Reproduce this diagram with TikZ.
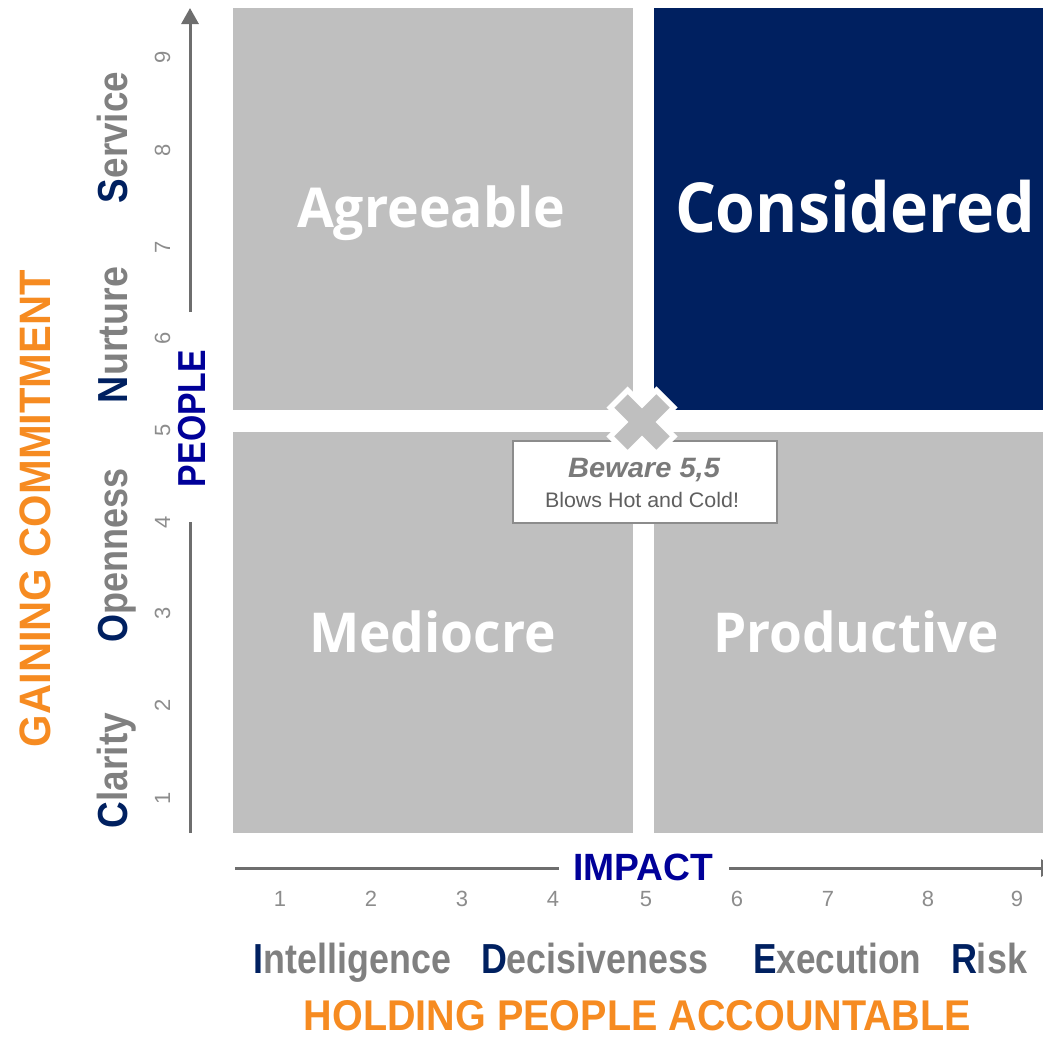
\documentclass[tikz,border=0pt]{standalone}
\usepackage{fontspec}
\usepackage{graphicx}
\setmainfont{Liberation Sans}
\newfontfamily\osans{Open Sans}
\usetikzlibrary{arrows.meta}

\definecolor{quadgray}{HTML}{BFBFBF}
\definecolor{navy}{HTML}{002060}
\definecolor{axblue}{HTML}{000099}
\definecolor{orng}{HTML}{F68B21}
\definecolor{wgray}{HTML}{808080}
\definecolor{tgray}{HTML}{8C8C8C}
\definecolor{lgray}{HTML}{6E6E6E}
\definecolor{bgray}{HTML}{7A7A7A}
\definecolor{cgray}{HTML}{5F5F5F}

\newcommand\fitw[2]{\resizebox{#1pt}{\height}{#2}}
\newcommand\fsz[1]{\fontsize{#1}{#1}\selectfont}

\tikzset{
  quad/.style={fill=quadgray},
  qlabel/.style={anchor=base, inner sep=0pt, text=white},
  vnum/.style={rotate=90, anchor=base, inner sep=0pt, text=tgray, font=\fsz{22}},
  hnum/.style={anchor=base, inner sep=0pt, text=tgray, font=\fsz{22}},
  vword/.style={rotate=90, anchor=base, inner sep=0pt, text=wgray, font=\bfseries\fsz{42}},
  hword/.style={anchor=base, inner sep=0pt, text=wgray, font=\bfseries\fsz{42}},
  axisline/.style={draw=lgray, line width=3pt},
  axisarrow/.style={axisline, -{Triangle[length=16pt,width=17pt]}},
}

\begin{document}
\begin{tikzpicture}[x=1pt,y=-1pt]
\useasboundingbox (0,0) rectangle (1043,1037);

% quadrants
\fill[quad] (233,8) rectangle (633,410);
\fill[navy] (654,8) rectangle (1043,410);
\fill[quad] (233,432) rectangle (633,833);
\fill[quad] (654,432) rectangle (1043,833);

\node[qlabel, font=\osans\bfseries\fsz{55}] (agree) at (431,227) {\fitw{268}{Agreeable}};
\node[qlabel, font=\osans\bfseries\fsz{69}] (consid) at (855,232) {\fitw{360}{Considered}};
\node[qlabel, font=\osans\bfseries\fsz{55}] (medio) at (432.5,652) {\fitw{247}{Mediocre}};
\node[qlabel, font=\osans\bfseries\fsz{55}] (produ) at (856,652) {\fitw{286}{Productive}};

% callout
\node[draw=tgray, fill=white, line width=1.2pt, minimum width=264pt, minimum height=82pt, inner sep=0pt] (callout) at (645,482) {};
\node[anchor=base, inner sep=0pt, text=bgray, font=\bfseries\itshape\fsz{28}] (beware) at (644,477) {\fitw{152}{Beware 5,5}};
\node[anchor=base, inner sep=0pt, text=cgray, font=\fsz{21}] (blows) at (642,507) {\fitw{194}{Blows Hot and Cold!}};

% X mark
\coordinate (xc) at (642,422);
\begin{scope}[shift={(xc)}]
  \draw[white, line width=30pt] (-25,-25) -- (25,25);
  \draw[white, line width=30pt] (-25,25) -- (25,-25);
  \draw[quadgray, line width=19pt] (-21,-21) -- (21,21);
  \draw[quadgray, line width=19pt] (-21,21) -- (21,-21);
\end{scope}

% vertical axis
\coordinate (vb) at (190,833);
\coordinate (vm1) at (190,522);
\coordinate (vm2) at (190,312);
\coordinate (vt) at (190,8);
\draw[axisline] (vb) -- (vm1);
\draw[axisarrow] (vm2) -- (vt);
\node[rotate=90, anchor=base, inner sep=0pt, text=axblue, font=\bfseries\fsz{39}] (people) at (205,418.5) {\fitw{137}{PEOPLE}};

\node[vnum] (v1) at (170,798) {1};
\node[vnum] (v2) at (170,705) {2};
\node[vnum] (v3) at (170,613) {3};
\node[vnum] (v4) at (170,522) {4};
\node[vnum] (v5) at (170,430) {5};
\node[vnum] (v6) at (170,338) {6};
\node[vnum] (v7) at (170,247) {7};
\node[vnum] (v8) at (170,150) {8};
\node[vnum] (v9) at (170,57) {9};

\node[vword] (clar) at (127,770.5) {\fitw{115}{\textcolor{navy}{C}larity}};
\node[vword] (open) at (127,555) {\fitw{174}{\textcolor{navy}{O}penness}};
\node[vword] (nurt) at (127,335) {\fitw{136}{\textcolor{navy}{N}urture}};
\node[vword] (serv) at (127,137.5) {\fitw{131}{\textcolor{navy}{S}ervice}};

\node[rotate=90, anchor=base, inner sep=0pt, text=orng, font=\bfseries\fsz{44}] (gain) at (50,508.5) {\fitw{477}{GAINING COMMITMENT}};

% horizontal axis
\coordinate (h0) at (235,868);
\coordinate (h1) at (559,868);
\coordinate (h2) at (729,868);
\coordinate (h3) at (1057,868);
\draw[axisline] (h0) -- (h1);
\draw[axisarrow] (h2) -- (h3);
\node[anchor=base, inner sep=0pt, text=axblue, font=\bfseries\fsz{38}] (impact) at (643,880) {\fitw{140}{IMPACT}};

\node[hnum] (h1n) at (280,906) {1};
\node[hnum] (h2n) at (371,906) {2};
\node[hnum] (h3n) at (462,906) {3};
\node[hnum] (h4n) at (553,906) {4};
\node[hnum] (h5n) at (646,906) {5};
\node[hnum] (h6n) at (737,906) {6};
\node[hnum] (h7n) at (828,906) {7};
\node[hnum] (h8n) at (928,906) {8};
\node[hnum] (h9n) at (1017,906) {9};

\node[hword] (intel) at (352.5,973) {\fitw{197}{\textcolor{navy}{I}ntelligence}};
\node[hword] (decis) at (594.5,973) {\fitw{227}{\textcolor{navy}{D}ecisiveness}};
\node[hword] (execu) at (837,973) {\fitw{168}{\textcolor{navy}{E}xecution}};
\node[hword] (risk) at (989,973) {\fitw{76}{\textcolor{navy}{R}isk}};

\node[anchor=base, inner sep=0pt, text=orng, font=\bfseries\fsz{43}] (hold) at (637.5,1030) {\fitw{667}{HOLDING PEOPLE ACCOUNTABLE}};
\end{tikzpicture}
\end{document}
